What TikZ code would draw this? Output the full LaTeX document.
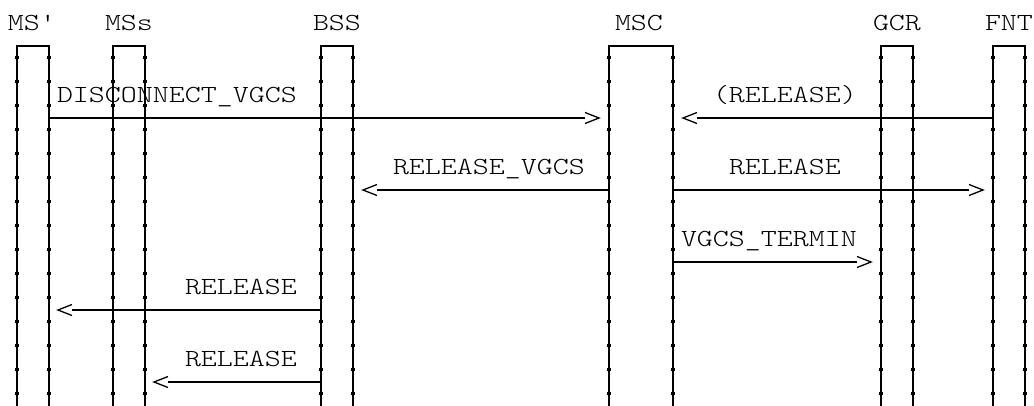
\documentclass[tikz,border=0pt]{standalone}
\usepackage{fontspec}
\newfontfamily\cour{lmmonolt10-regular.otf}[FakeStretch=1.24]
\begin{document}
\begin{tikzpicture}[x=1pt,y=-1pt,
  life/.style={line width=1.7pt, line join=miter},
  msg/.style={line width=1.7pt},
  chev/.style={line width=1.3pt, line join=miter},
  txt/.style={anchor=base west, inner sep=0pt, outer sep=0pt,
    font=\cour\fontsize{24.55pt}{30pt}\selectfont},
  rhead/.pic={\draw[chev] (0,-5.5) -- (14,0) -- (0,5.5);},
  lhead/.pic={\draw[chev] (0,-5.5) -- (-14,0) -- (0,5.5);}]
\useasboundingbox (0,0) rectangle (1034,405);

% header labels (column c -> x = 9 + 16c, row r -> baseline 30 + 24r)
\node[txt] (hMSp) at (8,30) {MS\textquotesingle};
\node[txt] (hMSs) at (105,30) {MSs};
\node[txt] (hBSS) at (313,30) {BSS};
\node[txt] (hMSC) at (615,30) {MSC};
\node[txt] (hGCR) at (873,30) {GCR};
\node[txt] (hFNT) at (985,30) {FNT};

% lifeline boxes (open at the bottom)
\foreach \l/\r in {17/49, 113/145, 321/353, 609/673, 881/913, 993/1025}{
  \draw[life] (\l,412) -- (\l,46) -- (\r,46) -- (\r,412);
  \foreach \n in {0,...,14}{
    \fill (\l-1.7,56.3+24*\n) rectangle ++(3.4,2.6);
    \fill (\r-1.7,56.3+24*\n) rectangle ++(3.4,2.6);
  }
}

% message end points
\coordinate (m1s) at (49,118);  \coordinate (m1e) at (585,118);
\coordinate (m2s) at (993,118); \coordinate (m2e) at (697,118);
\coordinate (m3s) at (609,190); \coordinate (m3e) at (377,190);
\coordinate (m4s) at (673,190); \coordinate (m4e) at (969,190);
\coordinate (m5s) at (673,262); \coordinate (m5e) at (857,262);
\coordinate (m6s) at (321,310); \coordinate (m6e) at (72,310);
\coordinate (m7s) at (321,382); \coordinate (m7e) at (168,382);

% messages
\draw[msg] (m1s) -- (m1e); \pic at (m1e) {rhead};
\node[txt] (l1) at (57,102) {DISCONNECT\_VGCS};

\draw[msg] (m2s) -- (m2e); \pic at (m2e) {lhead};
\node[txt] (l2) at (713,102) {(RELEASE)};

\draw[msg] (m3s) -- (m3e); \pic at (m3e) {lhead};
\node[txt] (l3) at (393,174) {RELEASE\_VGCS};

\draw[msg] (m4s) -- (m4e); \pic at (m4e) {rhead};
\node[txt] (l4) at (729,174) {RELEASE};

\draw[msg] (m5s) -- (m5e); \pic at (m5e) {rhead};
\node[txt] (l5) at (681,246) {VGCS\_TERMIN};

\draw[msg] (m6s) -- (m6e); \pic at (m6e) {lhead};
\node[txt] (l6) at (185,294) {RELEASE};

\draw[msg] (m7s) -- (m7e); \pic at (m7e) {lhead};
\node[txt] (l7) at (185,366) {RELEASE};
\end{tikzpicture}
\end{document}
